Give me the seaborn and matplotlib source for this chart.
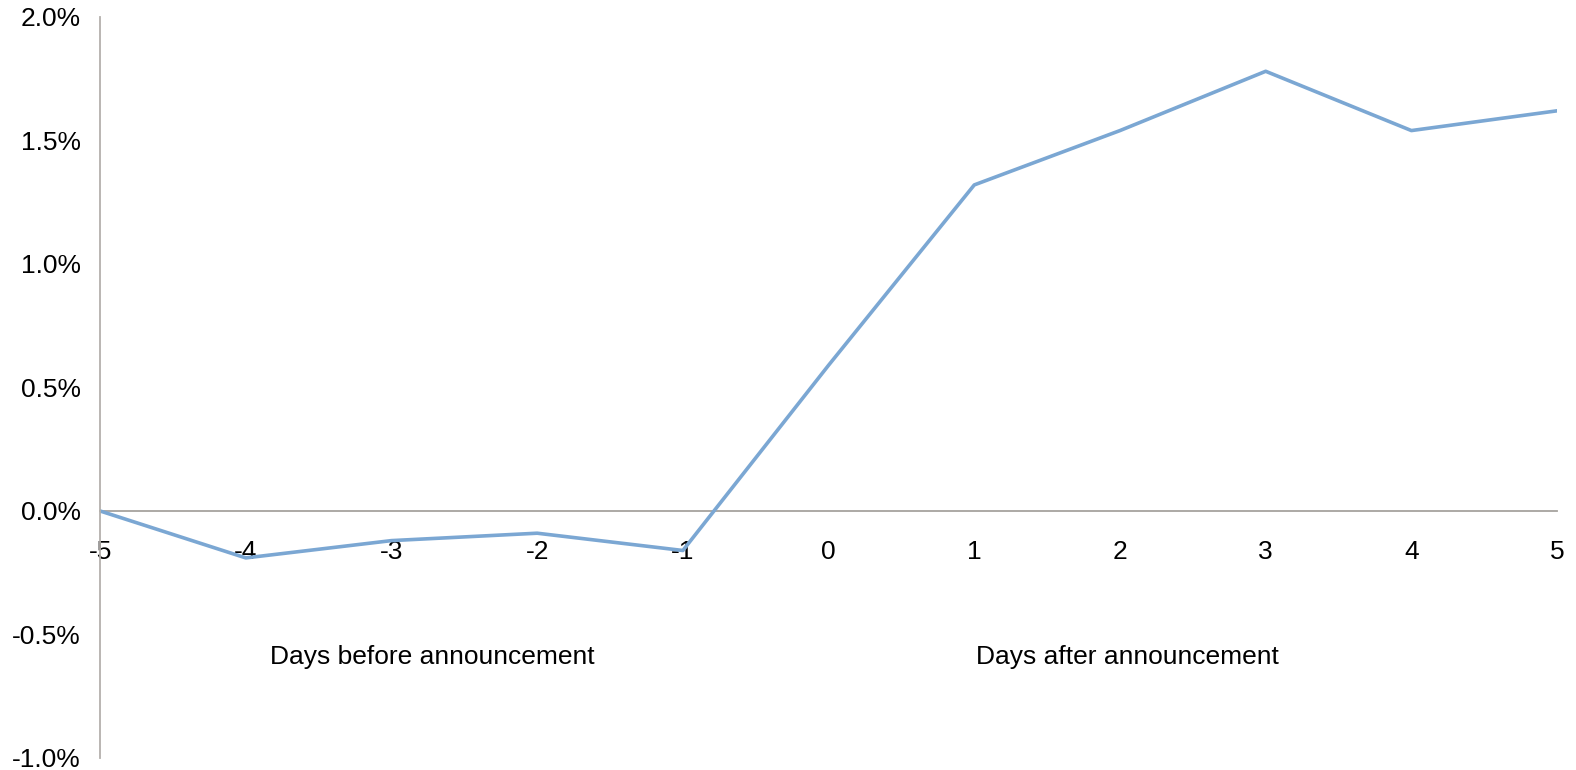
import matplotlib as mpl
import matplotlib.pyplot as plt
import numpy as np
import pandas as pd
import seaborn as sns
from matplotlib.ticker import PercentFormatter

# cumulative return around announcement day (in %)
days = [-5, -4, -3, -2, -1, 0, 1, 2, 3, 4, 5]
returns = [0.0, -0.19, -0.12, -0.09, -0.16, 0.59, 1.32, 1.54, 1.78, 1.54, 1.62]
y_ticks = [-1.0, -0.5, 0.0, 0.5, 1.0, 1.5, 2.0]

sns.set_style("white")
plt.rcParams['font.family'] = ['Liberation Sans', 'DejaVu Sans']
mpl.rcParams['font.size'] = 19
mpl.rcParams['axes.unicode_minus'] = False
mpl.rcParams['text.color'] = 'black'
mpl.rcParams['xtick.color'] = 'black'
mpl.rcParams['ytick.color'] = 'black'

data = pd.DataFrame({"day": days, "ret": returns})

fig = plt.figure(figsize=(15.76, 7.7), dpi=100)
ax = fig.add_axes([0.0635, 0.0156, 0.9245, 0.9624])

sns.lineplot(data=data, x="day", y="ret", ax=ax, color="#7ba7d3", linewidth=2.6)

ax.set_xlim(-5, 5)
ax.set_ylim(-1.0, 2.0)
ax.set_xticks(days)
ax.set_yticks(y_ticks)
ax.yaxis.set_major_formatter(PercentFormatter(decimals=1))
ax.set_xlabel("")
ax.set_ylabel("")

# excel-like axes: vertical at left, horizontal through zero
for s in ["top", "right"]:
    ax.spines[s].set_visible(False)
ax.spines["bottom"].set_position(("data", 0))
ax.spines["bottom"].set_color("#a6a29e")
ax.spines["left"].set_color("#b4b0ac")
ax.spines["bottom"].set_linewidth(1.3)
ax.spines["left"].set_linewidth(1.3)
ax.spines["bottom"].set_zorder(0)
ax.tick_params(axis="x", length=0, pad=21)
ax.tick_params(axis="y", length=0, pad=14)

ax.text(-2.72, -0.59, "Days before announcement", ha="center", va="center")
ax.text(2.05, -0.59, "Days after announcement", ha="center", va="center")

fig.savefig("out.png", dpi=100)
